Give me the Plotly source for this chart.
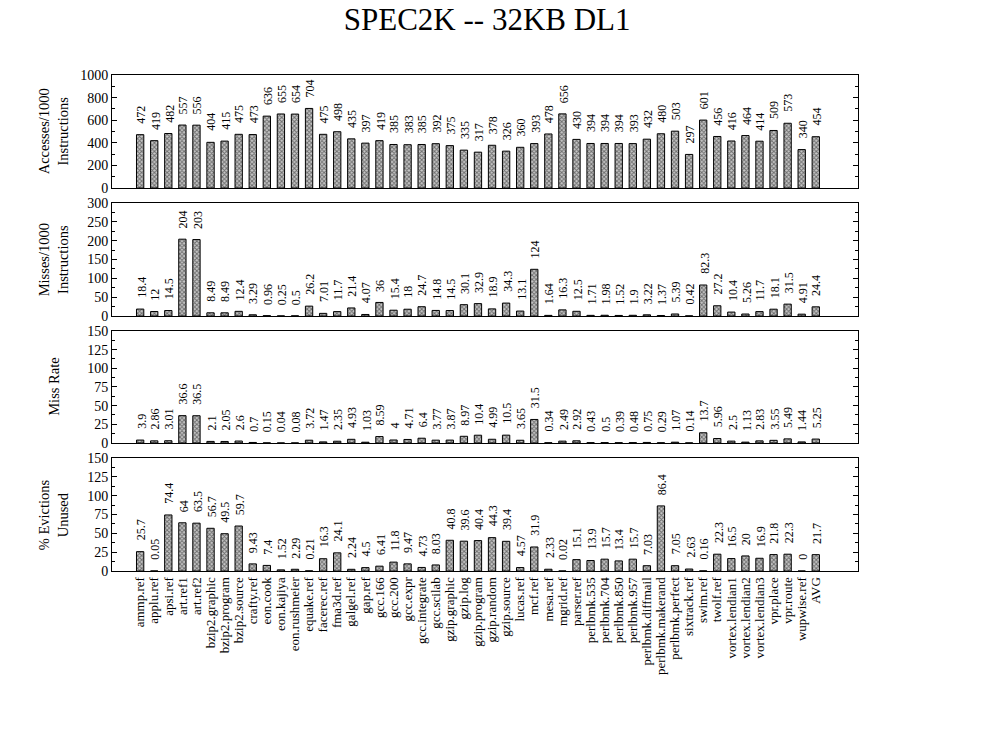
import plotly.graph_objects as go
from plotly.subplots import make_subplots

# ── data ───────────────────────────────────────────────────────────────────
benchmarks = [
    "ammp.ref", "applu.ref", "apsi.ref", "art.ref1", "art.ref2", "bzip2.graphic",
    "bzip2.program", "bzip2.source", "crafty.ref", "eon.cook", "eon.kajiya",
    "eon.rushmeier", "equake.ref", "facerec.ref", "fma3d.ref", "galgel.ref",
    "gap.ref", "gcc.166", "gcc.200", "gcc.expr", "gcc.integrate", "gcc.scilab",
    "gzip.graphic", "gzip.log", "gzip.program", "gzip.random", "gzip.source",
    "lucas.ref", "mcf.ref", "mesa.ref", "mgrid.ref", "parser.ref", "perlbmk.535",
    "perlbmk.704", "perlbmk.850", "perlbmk.957", "perlbmk.diffmail",
    "perlbmk.makerand", "perlbmk.perfect", "sixtrack.ref", "swim.ref", "twolf.ref",
    "vortex.lendian1", "vortex.lendian2", "vortex.lendian3", "vpr.place",
    "vpr.route", "wupwise.ref", "AVG",
]

accesses = [472, 419, 482, 557, 556, 404, 415, 475, 473, 636, 655, 654, 704, 475,
            498, 435, 397, 419, 385, 383, 385, 392, 375, 335, 317, 378, 326, 360,
            393, 478, 656, 430, 394, 394, 394, 393, 432, 480, 503, 297, 601, 456,
            416, 464, 414, 509, 573, 340, 454]

misses = [18.4, 12, 14.5, 204, 203, 8.49, 8.49, 12.4, 3.29, 0.96, 0.25, 0.5, 26.2,
          7.01, 11.7, 21.4, 4.07, 36, 15.4, 18, 24.7, 14.8, 14.5, 30.1, 32.9, 18.9,
          34.3, 13.1, 124, 1.64, 16.3, 12.5, 1.71, 1.98, 1.52, 1.9, 3.22, 1.37, 5.39,
          0.42, 82.3, 27.2, 10.4, 5.26, 11.7, 18.1, 31.5, 4.91, 24.4]

miss_rate = [3.9, 2.86, 3.01, 36.6, 36.5, 2.1, 2.05, 2.6, 0.7, 0.15, 0.04, 0.08,
             3.72, 1.47, 2.35, 4.93, 1.03, 8.59, 4, 4.71, 6.4, 3.77, 3.87, 8.97,
             10.4, 4.99, 10.5, 3.65, 31.5, 0.34, 2.49, 2.92, 0.43, 0.5, 0.39, 0.48,
             0.75, 0.29, 1.07, 0.14, 13.7, 5.96, 2.5, 1.13, 2.83, 3.55, 5.49, 1.44, 5.25]

evictions_unused = [25.7, 0.05, 74.4, 64, 63.5, 56.7, 49.5, 59.7, 9.43, 7.4, 1.52,
                    2.29, 0.21, 16.3, 24.1, 2.24, 4.5, 6.41, 11.8, 9.47, 4.73, 8.03,
                    40.8, 39.6, 40.4, 44.3, 39.4, 4.57, 31.9, 2.33, 0.02, 15.1, 13.9,
                    15.7, 13.4, 15.7, 7.03, 86.4, 7.05, 2.63, 0.16, 22.3, 16.5, 20,
                    16.9, 21.8, 22.3, 0, 21.7]

y_titles = ["Accesses/1000<br>Instructions", "Misses/1000<br>Instructions",
            "Miss Rate", "% Evictions<br>Unused"]
y_ranges = [[0, 1000], [0, 300], [0, 150], [0, 150]]
y_dticks = [200, 50, 25, 25]

FONT = "Liberation Serif"

# ── figure ─────────────────────────────────────────────────────────────────
fig = make_subplots(rows=4, cols=1, shared_xaxes=True, vertical_spacing=0.03)

# panel positions (paper coords of the plot area)
domains = [[0.7722, 1.0], [0.5141, 0.7419], [0.2581, 0.4839], [0.0, 0.2278]]

series = [accesses, misses, miss_rate, evictions_unused]
for r, vals in enumerate(series, 1):
    fig.add_trace(go.Bar(
        x=benchmarks, y=vals,
        width=0.52,
        marker=dict(
            color="#a8a8a8",
            line=dict(color="black", width=1),
            pattern=dict(shape="x", size=3, solidity=0.55, fgcolor="#111", bgcolor="#c8c8c8"),
        ),
        showlegend=False,
        hoverinfo="x+y",
    ), row=r, col=1)

    # value labels, rotated, sitting above each bar
    yref = "y" if r == 1 else f"y{r}"
    xref = "x" if r == 1 else f"x{r}"
    for b, v in zip(benchmarks, vals):
        fig.add_annotation(
            x=b, y=v, xref=xref, yref=yref,
            text=f"{v:g}", textangle=-90,
            xanchor="center", yanchor="bottom", yshift=9, xshift=1,
            showarrow=False,
            font=dict(size=12, color="black", family=FONT),
        )

for r in range(1, 5):
    fig.update_yaxes(
        domain=domains[r - 1],
        range=y_ranges[r - 1], dtick=y_dticks[r - 1],
        ticks="inside", ticklen=5, tickcolor="black",
        minor=dict(dtick=y_dticks[r - 1] / 2, ticks="inside", ticklen=3, tickcolor="black"),
        showline=True, linecolor="black", linewidth=1, mirror="allticks",
        showgrid=False, zeroline=False,
        tickfont=dict(size=14, color="black", family=FONT),
        row=r, col=1,
    )
    fig.update_xaxes(
        type="category", range=[-2, 51],
        tickmode="array", tickvals=benchmarks, ticktext=benchmarks,
        showline=True, linecolor="black", linewidth=1, mirror=True,
        ticks="", showgrid=False,
        tickangle=-90,
        tickfont=dict(size=13, color="black", family=FONT),
        showticklabels=(r == 4),
        row=r, col=1,
    )
    # y-axis titles as rotated annotations
    fig.add_annotation(
        text=y_titles[r - 1], textangle=-90,
        xref="paper", yref="paper",
        x=-0.078, y=sum(domains[r - 1]) / 2,
        xanchor="center", yanchor="middle",
        showarrow=False,
        font=dict(size=14.5, color="black", family=FONT),
    )

# page body has an 8px margin, so the figure is 8px smaller and offset
fig.update_layout(
    width=992, height=742,
    margin=dict(l=104, r=142, t=67, b=179),
    paper_bgcolor="white", plot_bgcolor="white",
    title=dict(
        text="SPEC2K -- 32KB DL1",
        x=0.483, y=1.0, xanchor="center", yanchor="top",
        pad=dict(t=0),
        font=dict(size=31, color="black", family=FONT),
    ),
    font=dict(family=FONT, color="black"),
)

fig.write_html("out.html")
